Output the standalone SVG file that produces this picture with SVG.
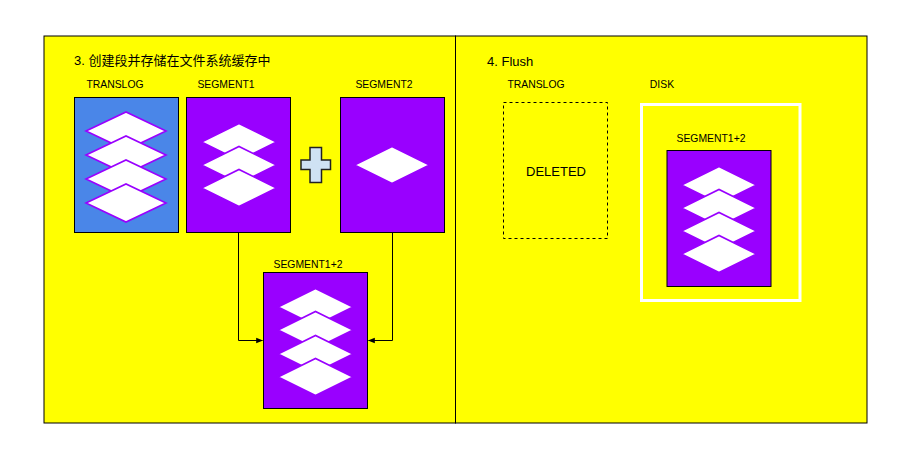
<svg xmlns="http://www.w3.org/2000/svg" width="904" height="452" viewBox="0 0 904 452">
<defs>
<style>
.panel{fill:#ffff00;stroke:#000;stroke-width:1}
.lbl{font-family:"Liberation Sans",Arial,sans-serif;font-size:10.4px;fill:#000;text-anchor:middle}
.title{font-family:"Liberation Sans","Noto Sans CJK SC",sans-serif;font-size:13px;fill:#000}
.seg{fill:#9900ff;stroke:#000;stroke-width:1}
.tl{fill:#4a86e8;stroke:#000;stroke-width:1}
.dm{fill:#fff;stroke:#9900ff;stroke-width:1.6}
.conn{fill:none;stroke:#000;stroke-width:1}
</style>
<marker id="arr" viewBox="0 0 10 10" refX="9" refY="5" markerWidth="7" markerHeight="7" orient="auto" markerUnits="userSpaceOnUse">
<path d="M0,1 L10,5 L0,9 Z" fill="#000"/>
</marker>
<polygon id="d40" points="-40,0 0,-19 40,0 0,19"/>
<polygon id="d37" points="-37.5,0 0,-18.5 37.5,0 0,18.5"/>
</defs>
<rect width="904" height="452" fill="#fff"/>
<g id="panel-left">
<rect class="panel" x="44" y="36" width="411.5" height="387"/>
<text class="title" x="74" y="65">3. 创建段并存储在文件系统缓存中</text>
</g>
<g id="panel-right">
<rect class="panel" x="455.5" y="36" width="411.5" height="387"/>
<text class="title" x="487" y="66">4. Flush</text>
</g>
<g id="translog1">
<text class="lbl" x="115" y="88">TRANSLOG</text>
<rect class="tl" x="74.5" y="97.5" width="104" height="135"/>
<use href="#d40" class="dm" x="126" y="131"/>
<use href="#d40" class="dm" x="126" y="155"/>
<use href="#d40" class="dm" x="126" y="179"/>
<use href="#d40" class="dm" x="126" y="203"/>
</g>
<g id="segment1">
<text class="lbl" x="226" y="88">SEGMENT1</text>
<rect class="seg" x="186.5" y="97.5" width="104" height="135"/>
<use href="#d37" class="dm" x="239" y="142"/>
<use href="#d37" class="dm" x="239" y="165"/>
<use href="#d37" class="dm" x="239" y="188"/>
</g>
<g id="plus">
<path d="M310,147.5 H321.5 V160 H330.5 V169.5 H321.5 V182.5 H310 V169.5 H301 V160 H310 Z" fill="#cfe2f3" stroke="#222" stroke-width="1.5"/>
</g>
<g id="segment2">
<text class="lbl" x="384" y="88">SEGMENT2</text>
<rect class="seg" x="340.5" y="97.5" width="104" height="135"/>
<use href="#d37" class="dm" x="392" y="165"/>
</g>
<g id="segment12">
<text class="lbl" x="308" y="268">SEGMENT1+2</text>
<rect class="seg" x="263.5" y="272.5" width="104" height="136"/>
<use href="#d37" class="dm" x="315.5" y="307"/>
<use href="#d37" class="dm" x="315.5" y="330"/>
<use href="#d37" class="dm" x="315.5" y="354"/>
<use href="#d37" class="dm" x="315.5" y="377"/>
</g>
<g id="connectors">
<path class="conn" d="M238.5,232.5 V340.5 H262.5" marker-end="url(#arr)"/>
<path class="conn" d="M392.5,232.5 V340.5 H368.5" marker-end="url(#arr)"/>
</g>
<g id="translog2">
<text class="lbl" x="536" y="88">TRANSLOG</text>
<rect x="503.5" y="102.5" width="104" height="136" fill="none" stroke="#000" stroke-width="1" stroke-dasharray="3,3"/>
<text x="556" y="175.5" font-family="Liberation Sans,Arial,sans-serif" font-size="13" text-anchor="middle">DELETED</text>
</g>
<g id="disk">
<text class="lbl" x="662" y="88">DISK</text>
<rect x="641.5" y="104.5" width="158.5" height="196" fill="none" stroke="#fff" stroke-width="3"/>
</g>
<g id="segment12-disk">
<text class="lbl" x="711" y="142">SEGMENT1+2</text>
<rect class="seg" x="667" y="150.5" width="104" height="136"/>
<use href="#d37" class="dm" x="719" y="185"/>
<use href="#d37" class="dm" x="719" y="208"/>
<use href="#d37" class="dm" x="719" y="231"/>
<use href="#d37" class="dm" x="719" y="254"/>
</g>
</svg>
